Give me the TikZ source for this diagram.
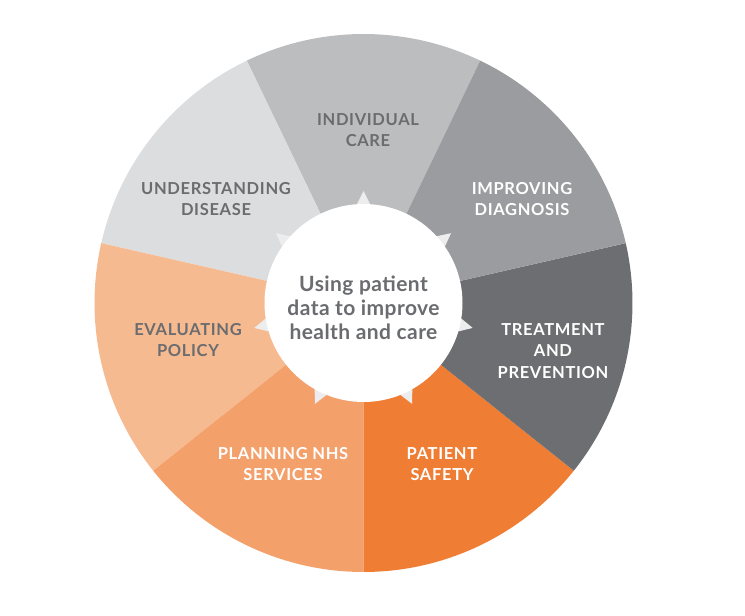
\documentclass[tikz,border=0pt]{standalone}
\usepackage{fontspec}
\setmainfont{Lato}
\newfontfamily\wheelfont[LetterSpace=4]{Lato}
\newfontfamily\hubfont[LetterSpace=2]{Lato}
\usetikzlibrary{positioning}
\definecolor{caregray}{HTML}{BCBDBF}
\definecolor{diseasegray}{HTML}{DCDDDE}
\definecolor{policyorange}{HTML}{F6BA91}
\definecolor{planorange}{HTML}{F4A06B}
\definecolor{safetyorange}{HTML}{EF7D33}
\definecolor{treatgray}{HTML}{6D6E71}
\definecolor{diaggray}{HTML}{9B9C9F}
\definecolor{labelgray}{HTML}{6B6C6F}
\definecolor{spikegray}{HTML}{EDEDEE}

\begin{document}
\begin{tikzpicture}[x=1pt, y=1pt,
    seglabel/.style={font=\wheelfont\fontsize{16.5}{21.5}\selectfont\bfseries, align=center, text=labelgray},
    seglabelw/.style={seglabel, text=white}]
    \useasboundingbox (0,0) rectangle (745,616);
    \coordinate (hub) at (363.5,313);
    % wheel segments, counter-clockwise from the top one
    \foreach \col [count=\i from 0] in {caregray, diseasegray, policyorange, planorange, safetyorange, treatgray, diaggray}
        \fill[\col] (hub) -- ++({64.2857+\i*51.4286}:269)
            arc[start angle={64.2857+\i*51.4286}, delta angle=51.4286, radius=269] -- cycle;
    % spikes round the hub
    \foreach \k in {0,...,6}
        \fill[spikegray, shift={(hub)}, rotate=\k*51.4286] (0,112) -- (-9,94) -- (9,94) -- cycle;
    \node[circle, fill=white, minimum size=198pt, inner sep=0pt] (core) at (hub) {};
    \node[font=\hubfont\fontsize{21}{24}\selectfont\bfseries, align=center, text=labelgray] (aim) at (363.5,308)
        {Using patient\\data to improve\\health and care};

    \node[seglabel] (care) at (368,486) {INDIVIDUAL\\CARE};
    \node[seglabel] (disease) at (216,417) {UNDERSTANDING\\DISEASE};
    \node[seglabelw] (diagnosis) at (522,417) {IMPROVING\\DIAGNOSIS};
    \node[seglabelw] (treatment) at (553,265) {TREATMENT\\AND\\PREVENTION};
    \node[seglabelw] (safety) at (442,152) {PATIENT\\SAFETY};
    \node[seglabelw] (planning) at (283,152) {PLANNING NHS\\SERVICES};
    \node[seglabel] (policy) at (188,276) {EVALUATING\\POLICY};
\end{tikzpicture}
\end{document}
